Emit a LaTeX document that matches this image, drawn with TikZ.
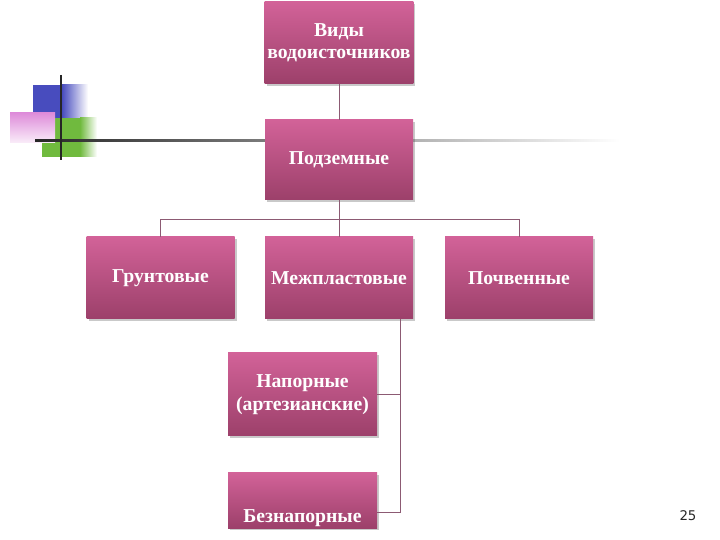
\documentclass[tikz,border=0pt]{standalone}
\usepackage{fontspec}
\setmainfont{Liberation Serif}
\newfontfamily\numfont{DejaVu Sans}
\usetikzlibrary{calc,shadows}
\definecolor{boxtop}{RGB}{210,98,152}
\definecolor{boxbot}{RGB}{156,64,106}
\definecolor{linkcol}{RGB}{140,90,115}
\definecolor{decoblue}{RGB}{72,76,190}
\definecolor{decopink}{RGB}{222,140,218}
\definecolor{decogreen}{RGB}{112,186,62}

\begin{document}
\begin{tikzpicture}[
    box/.style={rectangle, top color=boxtop, bottom color=boxbot, text=white,
      font=\fontsize{14}{16}\selectfont\bfseries, align=center,
      minimum width=3.7cm, minimum height=2.05cm, inner sep=2pt,
      drop shadow={shadow xshift=0.05cm, shadow yshift=-0.06cm, opacity=0.3, fill=black!70}},
    link/.style={draw=linkcol, line width=0.6pt}]
    \useasboundingbox (0,0) rectangle (18,13.5);
    \fill[decoblue] (0.825,10.55) rectangle (1.55,11.375);
    \shade[left color=decoblue, right color=white] (1.55,10.55) rectangle (2.2,11.375);
    \fill[decogreen] (1.05,9.575) rectangle (2.0,10.55);
    \shade[left color=decogreen, right color=white] (2.0,9.575) rectangle (2.425,10.55);
    \shade[top color=decopink, bottom color=decopink!15] (0.25,9.925) rectangle (1.375,10.675);
    \shade[left color=black!85, middle color=black!45, right color=white] (0.875,9.95) rectangle (15.5,10.0);
    \draw[black!85, line width=1.5pt] (1.525,11.625) -- (1.525,9.5);
    \node[box] (vidy) at (8.475,12.425) {Виды\\водоисточников};
    \node[box, minimum height=2cm] (podz) at (8.475,9.5) {Подземные};
    \node[box] (grunt) at (4.0125,6.55) {Грунтовые};
    \node[box] (mezh) at (8.475,6.55) {Межпластовые};
    \node[box] (pochv) at (12.975,6.55) {Почвенные};
    \node[box, minimum width=3.725cm, minimum height=2.075cm] (napor) at (7.5625,3.6375) {Напорные\\(артезианские)};
    \node[box, minimum width=3.725cm, minimum height=1.375cm, text height=1.175cm, text depth=0.06cm] (beznap) at (7.5625,0.9875) {Безнапорные};
    \node[font=\numfont\fontsize{9.5}{11}\selectfont, text=black!85] (pagenum) at (17.2,0.6) {25};
    \draw[link] (vidy) -- (podz);
    \draw[link] (podz.south) -- ++(0,-0.475) coordinate (fork);
    \draw[link] (grunt.north) -- (grunt.north |- fork) -| (pochv.north);
    \draw[link] (fork) -- (mezh.north);
    \coordinate (mtap) at ($(mezh.south east)+(-0.325,0)$);
    \coordinate (bend) at ($(beznap.east)+(0,-0.2875)$);
    \draw[link] (mtap) |- (napor.east);
    \draw[link] (napor.east -| mtap) |- (bend);
\end{tikzpicture}
\end{document}
